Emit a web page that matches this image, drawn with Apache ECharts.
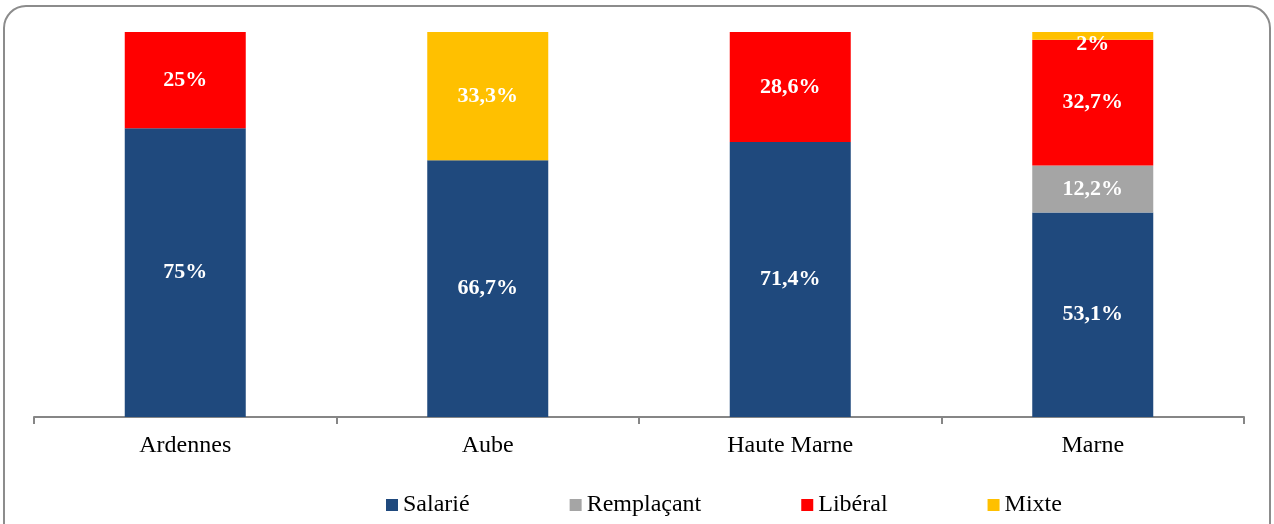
<!DOCTYPE html>
<html>
<head>
<meta charset="utf-8">
<script src="https://cdn.jsdelivr.net/npm/echarts@6/dist/echarts.min.js"></script>
<style>
  html, body { margin: 0; padding: 0; background: #fff; }
  #chart { width: 1274px; height: 524px; }
</style>
</head>
<body>
<div id="chart"></div>
<script>
// départements
var categories = ['Ardennes', 'Aube', 'Haute Marne', 'Marne']
// part de chaque mode d'exercice (%)
var salarie = [75, 66.7, 71.4, 53.1]
var remplacant = [0, 0, 0, 12.2]
var liberal = [25, 0, 28.6, 32.7]
var mixte = [0, 33.3, 0, 2]

var serifFont = "'Liberation Serif', 'DejaVu Serif', serif"

function pct(p) {
  if (!p.value) return ''
  return String(p.value).replace('.', ',') + '%'
}

function makeSeries(name, data, color) {
  // petites valeurs : étiquette décalée vers le bas comme dans l'original
  var items = data.map(function (v) {
    if (v > 0 && v < 5) return { value: v, label: { offset: [0, 8] } }
    return v
  })
  return {
    name: name,
    type: 'bar',
    stack: 'total',
    barWidth: '40%',
    data: items,
    itemStyle: { color: color },
    label: {
      show: true,
      position: 'inside',
      formatter: pct,
      color: '#fff',
      fontFamily: serifFont,
      fontWeight: 'bold',
      fontSize: 22
    }
  }
}

var chart = echarts.init(document.getElementById('chart'))
chart.setOption({
  animation: false,
  graphic: [{
    type: 'rect',
    shape: { x: 4, y: 6, width: 1266, height: 540, r: 22 },
    style: { fill: 'none', stroke: '#8c8c8c', lineWidth: 2 },
    silent: true
  }],
  grid: { left: 34, right: 30, top: 32, bottom: 107 },
  legend: {
    bottom: 2,
    left: 381,
    itemWidth: 12,
    itemHeight: 12,
    itemGap: 100,
    icon: 'rect',
    textStyle: { fontFamily: serifFont, fontSize: 24, color: '#000' },
    data: ['Salarié', 'Remplaçant', 'Libéral', 'Mixte']
  },
  xAxis: {
    type: 'category',
    data: categories,
    axisLine: { lineStyle: { color: '#868686', width: 2 } },
    axisTick: { show: true, length: 7, lineStyle: { color: '#868686', width: 2 } },
    axisLabel: { color: '#000', fontFamily: serifFont, fontSize: 24, margin: 17 }
  },
  yAxis: {
    type: 'value',
    min: 0,
    max: 100,
    show: false
  },
  series: [
    makeSeries('Salarié', salarie, '#1f497d'),
    makeSeries('Remplaçant', remplacant, '#a5a5a5'),
    makeSeries('Libéral', liberal, '#ff0000'),
    makeSeries('Mixte', mixte, '#ffc000')
  ]
})
</script>
</body>
</html>
